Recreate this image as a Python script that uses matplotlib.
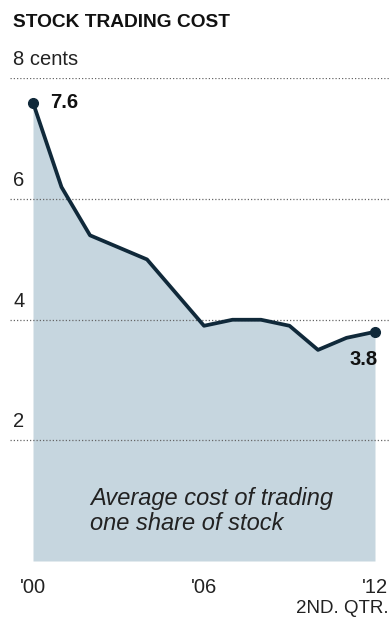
import matplotlib.pyplot as plt

years = [2000, 2001, 2002, 2003, 2004, 2005, 2006, 2007, 2008, 2009, 2010, 2011, 2012]
cost = [7.6, 6.2, 5.4, 5.2, 5.0, 4.45, 3.9, 4.0, 4.0, 3.9, 3.5, 3.7, 3.8]
grid_vals = [2, 4, 6, 8]
grid_labels = ["2", "4", "6", "8 cents"]
xtick_years = [2000, 2006, 2012]
xtick_labels = ["'00", "'06", "'12"]

plt.rcParams['font.family'] = ['Liberation Sans', 'DejaVu Sans']

W, H = 390, 619
fig = plt.figure(figsize=(W / 100, H / 100), dpi=100)
fig.patch.set_facecolor("white")

# axes: x pixels 10..390, y data 0 at px 561, 8 at px 78.5
ax = fig.add_axes([10 / W, (H - 561) / H, 380 / W, (561 - 78.5) / H])
px_per_year = 28.5
ax.set_xlim(2000 - 23 / px_per_year, 2012 + 15 / px_per_year)
ax.set_ylim(0, 8)
ax.axis("off")

fill_col = "#c6d6df"
line_col = "#10293a"

ax.fill_between(years, cost, 0, color=fill_col, lw=0, zorder=1)

for v in grid_vals:
    ax.axhline(v, color="#666666", lw=0.9, linestyle=(0, (1, 1.6)), zorder=2)

ax.plot(years, cost, color=line_col, lw=2.7, solid_joinstyle="round",
        solid_capstyle="round", zorder=3)
ax.plot([years[0], years[-1]], [cost[0], cost[-1]], "o", color=line_col,
        ms=7, zorder=4)

# value labels
ax.annotate(f"{cost[0]}", (years[0], cost[0]), xytext=(12, -4),
            textcoords="offset points", fontsize=14.5, fontweight="bold",
            color="#111111", ha="left", va="baseline")
ax.annotate(f"{cost[-1]}", (years[-1], cost[-1]), xytext=(2, -24),
            textcoords="offset points", fontsize=14.5, fontweight="bold",
            color="#111111", ha="right", va="baseline")

# y grid labels (above each gridline, at the left edge)
ytrans = ax.get_yaxis_transform()
for v, lab in zip(grid_vals, grid_labels):
    ax.annotate(lab, (0.008, v), xycoords=ytrans, xytext=(0, 9.5),
                textcoords="offset points", fontsize=14.5, color="#222222",
                ha="left", va="baseline")

# x labels
xtrans = ax.get_xaxis_transform()
for yr, lab in zip(xtick_years, xtick_labels):
    if yr == xtick_years[-1]:
        ax.annotate(lab, (yr, 0), xycoords=xtrans, xytext=(9.5, -23),
                    textcoords="offset points", fontsize=14.5, color="#222222",
                    ha="right", va="baseline")
    else:
        ax.annotate(lab, (yr, 0), xycoords=xtrans, xytext=(0, -23),
                    textcoords="offset points", fontsize=14.5, color="#222222",
                    ha="center", va="baseline")
ax.annotate("2ND. QTR.", (xtick_years[-1], 0), xycoords=xtrans, xytext=(9.5, -37.5),
            textcoords="offset points", fontsize=13.5, color="#222222",
            ha="right", va="baseline")

ax.text(2002.0, 0.51, "Average cost of trading\none share of stock",
        fontsize=17, style="italic", color="#222222", ha="left",
        va="baseline", linespacing=1.15, zorder=5)

fig.text(13 / W, 1 - 27 / H, "STOCK TRADING COST", fontsize=13.8,
         fontweight="bold", color="#111111", ha="left", va="baseline")

fig.savefig("out.png", dpi=100)
